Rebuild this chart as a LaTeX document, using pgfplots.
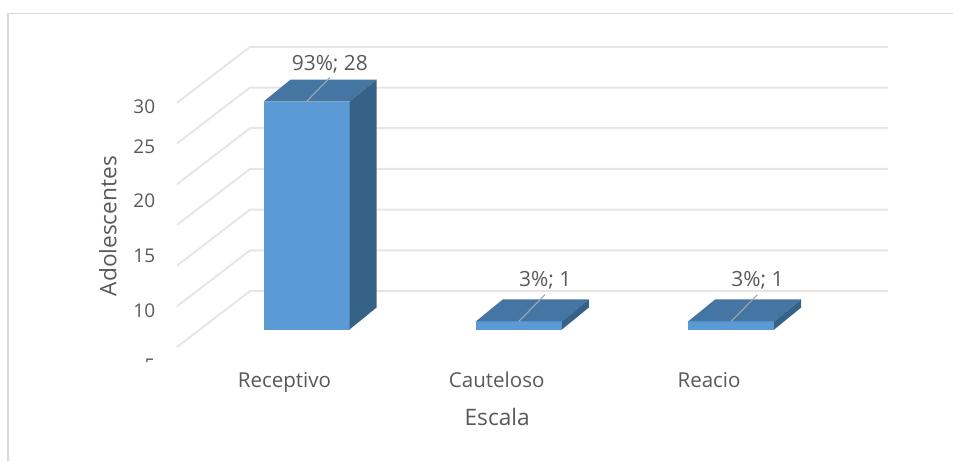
\documentclass[border=0pt]{standalone}
\usepackage{pgfplots}
\pgfplotsset{compat=1.18}
\usepackage{fontspec}
\setmainfont{Open Sans}
\definecolor{barfront}{HTML}{5B9BD5}
\definecolor{bartop}{HTML}{4576A3}
\definecolor{barside}{HTML}{376287}
\definecolor{gridc}{HTML}{E6E6E6}
\definecolor{framec}{HTML}{D9D9D9}
\definecolor{txt}{HTML}{595959}
\definecolor{leader}{HTML}{A6A6A6}
\begin{document}
\begin{tikzpicture}[x=1pt,y=1pt]
\useasboundingbox (0,0) rectangle (714.75,345.75);
\begin{axis}[
  at={(0,0)},anchor=south west,
  scale only axis,width=714.75pt,height=345.75pt,
  axis lines=left,
  axis line style={draw=none,-},
  xmin=-1.4437,xmax=3.045,ymin=-16.15,ymax=40.48,
  clip=false,
  tick style={draw=none},
  ytick={27.33,22.4,15.8,9.03,2.27,-4.48},
  yticklabels={30,25,20,15,10,5},
  xtick={-0.104,0.896,1.896},
  xticklabels={Receptivo,Cauteloso,Reacio},
  yticklabel style={text=txt,font=\fontsize{14.2}{16}\selectfont,anchor=east,xshift=122pt},
  xticklabel style={text=txt,font=\fontsize{15.4}{17}\selectfont,anchor=base,yshift=57pt},
  /pgf/number format/assume math mode=true,
]
% frame
\addplot[framec,line width=1.1pt] coordinates {(-1.405,-16.15) (-1.405,38.85) (3.045,38.85)};
% gridlines: front end, back corner, back end
\addplot[gridc,line width=1.5pt] coordinates {(-0.610,-2.15) (-0.266,4.73) (2.738,4.73)};
\addplot[gridc,line width=1.5pt] coordinates {(-0.610,2.85) (-0.266,9.73) (2.738,9.73)};
\addplot[gridc,line width=1.5pt] coordinates {(-0.610,7.85) (-0.266,14.73) (2.738,14.73)};
\addplot[gridc,line width=1.5pt] coordinates {(-0.610,12.85) (-0.266,19.73) (2.738,19.73)};
\addplot[gridc,line width=1.5pt] coordinates {(-0.610,17.85) (-0.266,24.73) (2.738,24.73)};
\addplot[gridc,line width=1.5pt] coordinates {(-0.610,22.85) (-0.266,29.73) (2.738,29.73)};
\addplot[gridc,line width=1.5pt] coordinates {(-0.610,27.85) (-0.266,34.73) (2.738,34.73)};
% Receptivo = 28
\addplot[fill=barfront,draw=none] coordinates {(-0.2025,0) (0.2025,0) (0.2025,28) (-0.2025,28)} --cycle;
\addplot[fill=bartop,draw=none] coordinates {(-0.2025,28) (0.2025,28) (0.3297,30.7) (-0.0753,30.7)} --cycle;
\addplot[fill=barside,draw=none] coordinates {(0.2025,0) (0.3297,2.7) (0.3297,30.7) (0.2025,28)} --cycle;
% Cauteloso = 1
\addplot[fill=barfront,draw=none] coordinates {(0.7975,0) (1.2025,0) (1.2025,1) (0.7975,1)} --cycle;
\addplot[fill=bartop,draw=none] coordinates {(0.7975,1) (1.2025,1) (1.3297,3.7) (0.9247,3.7)} --cycle;
\addplot[fill=barside,draw=none] coordinates {(1.2025,0) (1.3297,2.7) (1.3297,3.7) (1.2025,1)} --cycle;
% Reacio = 1
\addplot[fill=barfront,draw=none] coordinates {(1.7975,0) (2.2025,0) (2.2025,1) (1.7975,1)} --cycle;
\addplot[fill=bartop,draw=none] coordinates {(1.7975,1) (2.2025,1) (2.3297,3.7) (1.9247,3.7)} --cycle;
\addplot[fill=barside,draw=none] coordinates {(2.2025,0) (2.3297,2.7) (2.3297,3.7) (2.2025,1)} --cycle;
% leaders
\addplot[leader,line width=0.8pt] coordinates {(0,28) (0.11,30.95)};
\addplot[leader,line width=0.8pt] coordinates {(1,1) (1.124,4.3)};
\addplot[leader,line width=0.8pt] coordinates {(2,1) (2.124,4.3)};
% data labels
\node[text=txt,font=\fontsize{15.7}{17}\selectfont] at (axis cs:0.11,32.6) {93\%; 28};
\node[text=txt,font=\fontsize{15.7}{17}\selectfont] at (axis cs:1.124,6.0) {3\%; 1};
\node[text=txt,font=\fontsize{15.7}{17}\selectfont] at (axis cs:2.124,6.0) {3\%; 1};
% axis titles
\node[text=txt,font=\fontsize{17}{19}\selectfont,rotate=90] at (axis cs:-0.936,12.7) {Adolescentes};
\node[text=txt,font=\fontsize{17}{19}\selectfont] at (axis cs:0.898,-10.8) {Escala};
\end{axis}
\fill[white] (100,60) rectangle (125,74.5);
\end{tikzpicture}
\end{document}
